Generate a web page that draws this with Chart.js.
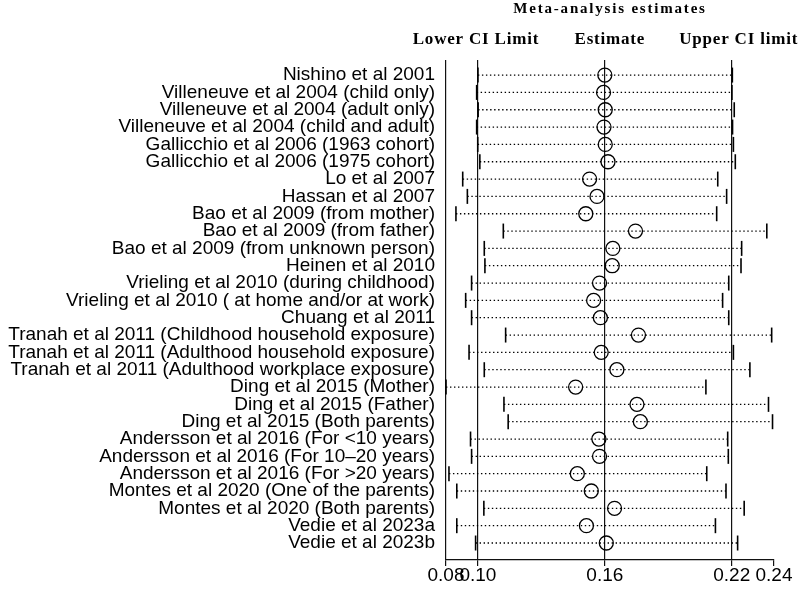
<!DOCTYPE html>
<html>
<head>
<meta charset="utf-8">
<title>Meta-analysis estimates</title>
<script src="https://cdn.jsdelivr.net/npm/chart.js@4.4.1/dist/chart.umd.min.js"></script>
<style>
  html, body { margin: 0; padding: 0; background: #fff; }
  .chart-wrap { position: relative; width: 800px; height: 591px; }
</style>
</head>
<body>
<div class="chart-wrap"><canvas id="forestChart"></canvas></div>
<script>
// Study rows (top to bottom)
const studies = [
  'Nishino et al 2001',
  'Villeneuve et al 2004 (child only)',
  'Villeneuve et al 2004 (adult only)',
  'Villeneuve et al 2004 (child and adult)',
  'Gallicchio et al 2006 (1963 cohort)',
  'Gallicchio et al 2006 (1975 cohort)',
  'Lo et al 2007',
  'Hassan et al 2007',
  'Bao et al 2009 (from mother)',
  'Bao et al 2009 (from father)',
  'Bao et al 2009 (from unknown person)',
  'Heinen et al 2010',
  'Vrieling et al 2010 (during childhood)',
  'Vrieling et al 2010 ( at home and/or at work)',
  'Chuang et al 2011',
  'Tranah et al 2011 (Childhood household exposure)',
  'Tranah et al 2011 (Adulthood household exposure)',
  'Tranah et al 2011 (Adulthood workplace exposure)',
  'Ding et al 2015 (Mother)',
  'Ding et al 2015 (Father)',
  'Ding et al 2015 (Both parents)',
  'Andersson et al 2016 (For <10 years)',
  'Andersson et al 2016 (For 10\u201320 years)',
  'Andersson et al 2016 (For >20 years)',
  'Montes et al 2020 (One of the parents)',
  'Montes et al 2020 (Both parents)',
  'Vedie et al 2023a',
  'Vedie et al 2023b'
];

const estimates = [
  0.1600, 0.1594, 0.1602, 0.1596, 0.1602, 0.1615, 0.1528,
  0.1563, 0.1510, 0.1745, 0.1638, 0.1635, 0.1575, 0.1547,
  0.1579, 0.1759, 0.1583, 0.1657, 0.1462, 0.1752, 0.1768,
  0.1572, 0.1575, 0.1470, 0.1536, 0.1646, 0.1513, 0.1607
];

const lowerCI = [
  0.1000, 0.0994, 0.1001, 0.0994, 0.0999, 0.1009, 0.0928,
  0.0950, 0.0896, 0.1120, 0.1030, 0.1033, 0.0970, 0.0942,
  0.0970, 0.1131, 0.0958, 0.1030, 0.0849, 0.1123, 0.1143,
  0.0965, 0.0970, 0.0863, 0.0900, 0.1028, 0.0900, 0.0989
];

const upperCI = [
  0.2203, 0.2201, 0.2212, 0.2204, 0.2208, 0.2217, 0.2134,
  0.2176, 0.2129, 0.2366, 0.2247, 0.2244, 0.2186, 0.2157,
  0.2186, 0.2389, 0.2208, 0.2286, 0.2078, 0.2374, 0.2393,
  0.2181, 0.2184, 0.2082, 0.2173, 0.2259, 0.2123, 0.2228
];

// Axis ticks (the left end of the axis is the smallest lower limit)
const xTickValues = [0.10, 0.16, 0.22, 0.24];
// Pooled lower limit, estimate, upper limit
const refLines = [0.10, 0.16, 0.22];
const chartTitle = 'Meta-analysis estimates';
const columnHeaders = ['Lower CI Limit', 'Estimate', 'Upper CI limit'];

const labelFont = { family: '"Liberation Sans", Arial, sans-serif', size: 19 };

// Title and column headers above the plot
const headerPlugin = {
  id: 'headerPlugin',
  afterDraw(chart) {
    const ctx = chart.ctx;
    const x = chart.scales.x;
    const area = chart.chartArea;
    ctx.save();
    ctx.fillStyle = '#000';
    ctx.textAlign = 'center';
    ctx.textBaseline = 'middle';
    ctx.font = 'bold 15px "Liberation Serif", "Times New Roman", serif';
    ctx.letterSpacing = '1.8px';
    ctx.fillText(chartTitle, (area.left + area.right) / 2, 9);
    ctx.font = 'bold 17px "Liberation Serif", "Times New Roman", serif';
    ctx.letterSpacing = '0.8px';
    const shift = [-2, 5, 7];
    columnHeaders.forEach((text, i) => {
      ctx.fillText(text, x.getPixelForValue(refLines[i]) + shift[i], 40);
    });
    ctx.restore();
  }
};

document.addEventListener('DOMContentLoaded', function() {
  // Dotted CI line with a vertical tick at each end
  const ciDatasets = studies.map((name, i) => ({
    type: 'line',
    label: name,
    data: [{ x: lowerCI[i], y: i }, { x: upperCI[i], y: i }],
    borderColor: '#000',
    borderWidth: 1.3,
    borderDash: [1.4, 2.6],
    pointStyle: 'line',
    pointRotation: 90,
    pointRadius: 7.5,
    pointBorderWidth: 1.6,
    pointBorderColor: '#000',
    fill: false,
    clip: false
  }));

  const estimateDataset = {
    type: 'scatter',
    label: 'Estimate',
    data: estimates.map((v, i) => ({ x: v, y: i })),
    pointStyle: 'circle',
    pointRadius: 7,
    pointBorderWidth: 1.3,
    pointBorderColor: '#000',
    pointBackgroundColor: 'rgba(0,0,0,0)',
    clip: false
  };

  new Chart(document.getElementById('forestChart'), {
    type: 'scatter',
    data: { datasets: [...ciDatasets, estimateDataset] },
    options: {
      responsive: true,
      maintainAspectRatio: false,
      animation: false,
      layout: { padding: { left: 4, right: 26, top: 60, bottom: 0 } },
      plugins: {
        legend: { display: false },
        tooltip: { enabled: false }
      },
      scales: {
        x: {
          type: 'linear',
          min: Math.min(...lowerCI),
          max: 0.24,
          afterBuildTicks: function(scale) {
            scale.ticks = [scale.min, ...xTickValues].map(v => ({ value: v }));
          },
          afterFit: function(scale) { scale.height = 31; },
          ticks: {
            autoSkip: false,
            maxRotation: 0,
            minRotation: 0,
            padding: -2,
            color: '#000',
            font: labelFont,
            callback: v => v.toFixed(2)
          },
          grid: {
            color: c => (c.tick && c.tick.value >= 0.24) ? 'rgba(0,0,0,0)' : '#111',
            tickColor: '#111',
            lineWidth: 1.2,
            drawTicks: true,
            tickLength: 6
          },
          border: { display: true, color: '#111', width: 1.2 }
        },
        y: {
          type: 'linear',
          reverse: true,
          min: -0.87,
          max: 27.98,
          afterBuildTicks: function(scale) {
            scale.ticks = studies.map((_, i) => ({ value: i }));
          },
          afterFit: function(scale) { scale.width = 442; },
          ticks: {
            autoSkip: false,
            padding: 3,
            color: '#000',
            font: labelFont,
            callback: v => studies[v]
          },
          grid: { display: false },
          border: { display: false }
        }
      }
    },
    plugins: [headerPlugin]
  });
});
</script>
</body>
</html>
